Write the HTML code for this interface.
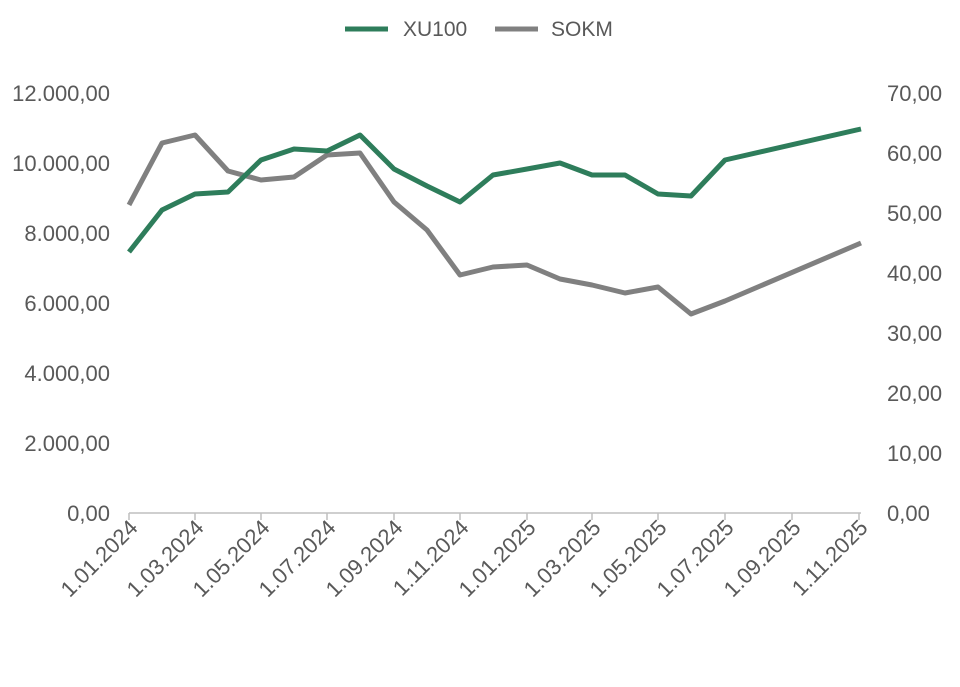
<!DOCTYPE html>
<html><head><meta charset="utf-8"><style>
body{margin:0;background:#fff;}
svg text{font-family:"Liberation Sans",sans-serif;fill:#595959;}
</style></head><body>
<svg width="960" height="682" xmlns="http://www.w3.org/2000/svg">
<rect width="960" height="682" fill="#fff"/>
<line x1="345" y1="29" x2="388" y2="29" stroke="#2e7d5b" stroke-width="5"/>
<text x="403" y="36" font-size="21">XU100</text>
<line x1="495" y1="29" x2="538" y2="29" stroke="#808080" stroke-width="5"/>
<text x="551" y="36" font-size="21">SOKM</text>
<g font-size="22" text-anchor="end">
<text x="110" y="101">12.000,00</text>
<text x="110" y="171">10.000,00</text>
<text x="110" y="241">8.000,00</text>
<text x="110" y="311">6.000,00</text>
<text x="110" y="381">4.000,00</text>
<text x="110" y="451">2.000,00</text>
<text x="110" y="521">0,00</text>
</g>
<g font-size="22">
<text x="887" y="101">70,00</text>
<text x="887" y="161">60,00</text>
<text x="887" y="221">50,00</text>
<text x="887" y="281">40,00</text>
<text x="887" y="341">30,00</text>
<text x="887" y="401">20,00</text>
<text x="887" y="461">10,00</text>
<text x="887" y="521">0,00</text>
</g>
<line x1="129" y1="513" x2="861" y2="513" stroke="#bfbfbf" stroke-width="1.5"/>
<g stroke="#bfbfbf" stroke-width="1.5">
<line x1="129" y1="513" x2="129" y2="520"/><line x1="195" y1="513" x2="195" y2="520"/>
<line x1="261" y1="513" x2="261" y2="520"/><line x1="327" y1="513" x2="327" y2="520"/>
<line x1="394" y1="513" x2="394" y2="520"/><line x1="460" y1="513" x2="460" y2="520"/>
<line x1="527" y1="513" x2="527" y2="520"/><line x1="592" y1="513" x2="592" y2="520"/>
<line x1="658" y1="513" x2="658" y2="520"/><line x1="725" y1="513" x2="725" y2="520"/>
<line x1="792" y1="513" x2="792" y2="520"/><line x1="859" y1="513" x2="859" y2="520"/>
</g>
<g font-size="22" text-anchor="end">
<text transform="translate(139,529) rotate(-45)">1.01.2024</text>
<text transform="translate(205,529) rotate(-45)">1.03.2024</text>
<text transform="translate(271,529) rotate(-45)">1.05.2024</text>
<text transform="translate(337,529) rotate(-45)">1.07.2024</text>
<text transform="translate(404,529) rotate(-45)">1.09.2024</text>
<text transform="translate(470,529) rotate(-45)">1.11.2024</text>
<text transform="translate(537,529) rotate(-45)">1.01.2025</text>
<text transform="translate(602,529) rotate(-45)">1.03.2025</text>
<text transform="translate(668,529) rotate(-45)">1.05.2025</text>
<text transform="translate(735,529) rotate(-45)">1.07.2025</text>
<text transform="translate(802,529) rotate(-45)">1.09.2025</text>
<text transform="translate(869,529) rotate(-45)">1.11.2025</text>
</g>
<polyline fill="none" stroke="#808080" stroke-width="5" stroke-linejoin="round"
points="129,205 162,143 195,135 228,171 261,180 294,177 327,155 360,153 394,202 427,230 460,275 493,267 527,265 560,279 592,285 625,293 658,287 691,314 725,301 861,243"/>
<polyline fill="none" stroke="#2e7d5b" stroke-width="5" stroke-linejoin="round"
points="129,252 162,210 195,194 228,192 261,160 294,149 327,151 360,135 394,169 427,186 460,202 493,175 527,169 560,163 592,175 625,175 658,194 691,196 725,160 861,129"/>
</svg>
</body></html>
